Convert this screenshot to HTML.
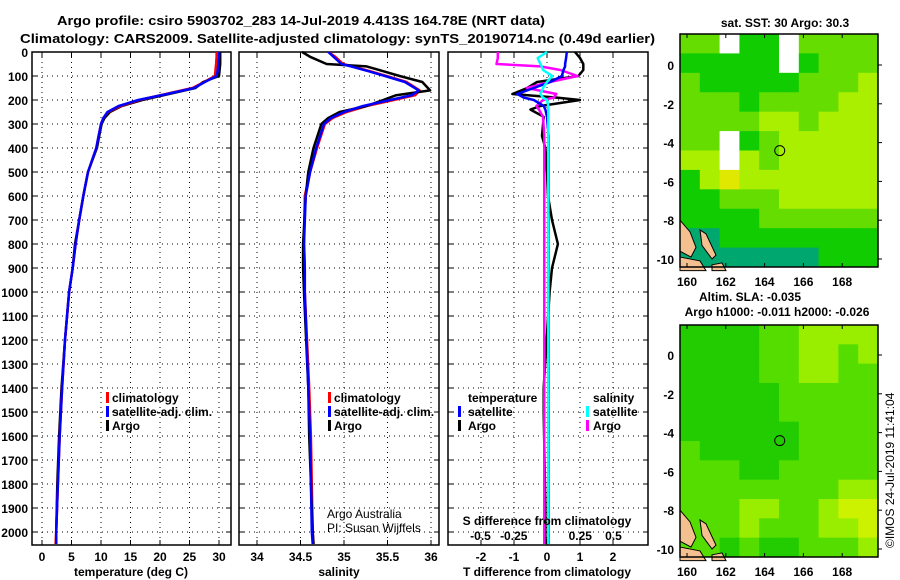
<!DOCTYPE html>
<html><head><meta charset="utf-8"><style>
html,body{margin:0;padding:0;background:#fff;}
svg{display:block;font-family:"Liberation Sans",sans-serif;}
.b{font-weight:bold;font-size:12px;}
</style></head><body>
<svg id="c" width="900" height="580" viewBox="0 0 900 580">
<text class="b" x="57" y="25" textLength="488" lengthAdjust="spacingAndGlyphs" style="font-size:13px">Argo profile: csiro 5903702_283 14-Jul-2019 4.413S 164.78E (NRT data)</text>
<text class="b" x="20" y="43" textLength="635" lengthAdjust="spacingAndGlyphs" style="font-size:13px">Climatology: CARS2009. Satellite-adjusted climatology: synTS_20190714.nc (0.49d earlier)</text>
</svg>
<script>
// ---- data ----
const depthT = [0,20,50,75,100,125,150,175,200,225,250,275,300,350,400,500,600,700,800,900,1000,1200,1400,1600,1800,2000,2050];
const argoT  = [30.2,30.2,30.2,30.1,30.0,27.3,26.0,21.5,17.0,13.5,11.5,10.6,10.1,9.7,9.3,7.8,7.0,6.3,5.6,5.2,4.6,3.9,3.3,2.9,2.6,2.4,2.4];
const climT  = [29.6,29.6,29.5,29.4,29.3,27.5,25.5,21.0,16.5,13.3,11.2,10.4,10.0,9.6,9.2,7.8,7.0,6.3,5.7,5.2,4.6,3.9,3.4,3.0,2.7,2.4,2.3];
const satT   = [30.0,30.0,29.9,29.8,29.6,27.6,25.8,21.2,16.3,13.0,11.1,10.4,10.0,9.6,9.2,7.8,7.0,6.3,5.7,5.2,4.6,3.9,3.4,3.0,2.7,2.4,2.4];
const depthS = [0,20,50,60,80,100,125,160,180,200,225,250,275,300,400,500,600,800,900,1000,1400,1600,2000,2050];
const argoS  = [34.52,34.61,34.80,35.26,35.45,35.64,35.90,35.99,35.60,35.45,35.26,34.95,34.82,34.74,34.65,34.59,34.56,34.53,34.53,34.54,34.59,34.60,34.64,34.65];
const climS  = [34.82,34.90,34.99,35.10,35.30,35.49,35.72,35.87,35.82,35.57,35.26,35.03,34.87,34.78,34.69,34.61,34.55,34.54,34.55,34.55,34.60,34.62,34.64,34.65];
const satS   = [34.82,34.88,34.97,35.08,35.28,35.47,35.70,35.86,35.78,35.53,35.22,35.00,34.85,34.77,34.68,34.61,34.56,34.54,34.55,34.55,34.59,34.61,34.63,34.64];
const depthD = [0,25,50,60,75,100,125,150,175,190,200,225,240,270,350,400,500,600,700,800,900,1000,1400,1500,1900,2050];
const dTargo = [0.85,1.0,1.1,1.1,1.1,0.95,-0.3,-0.6,-1.05,0.3,1.0,-0.2,-0.5,-0.1,-0.15,-0.05,0,0.03,0.15,0.33,0.15,0.08,-0.1,-0.1,-0.05,-0.05];
const dTsat  = [0.6,0.58,0.55,0.55,0.5,0.45,0.1,-0.4,-0.9,-0.7,-0.4,-0.1,-0.05,0,0.05,0.05,0.05,0.05,0.05,0.05,0.05,0.05,0.05,0.05,0.05,0.05];
const dSargo = [-0.37,-0.37,-0.38,-0.05,0.1,0.23,0.02,-0.15,0.07,0.05,-0.03,-0.08,-0.06,-0.03,-0.02,-0.02,-0.02,-0.02,-0.02,-0.02,-0.02,-0.02,-0.02,-0.02,-0.02,-0.02];
const dSsat  = [0,-0.07,-0.05,-0.04,-0.03,0.04,0,-0.03,-0.05,-0.03,0,0.01,0.01,0.01,0.01,0.01,0.01,0.01,0.01,0.01,0.01,0.01,0.01,0.01,0.01,0.01];
const depthTicks = [0,100,200,300,400,500,600,700,800,900,1000,1100,1200,1300,1400,1500,1600,1700,1800,1900,2000];
const tTicks = [0,5,10,15,20,25,30];
const sTicks = [34,34.5,35,35.5,36];
const sTickLabels = ["34","34.5","35","35.5","36"];
const dTTicks = [-2,-1,0,1,2];
const dSTicks = [-0.5,-0.25,0,0.25,0.5];
const dSTickLabels = ["-0.5","-0.25","0","0.25","0.5"];
const lonTicks = [160,162,164,166,168];
const latTicks = [0,-2,-4,-6,-8,-10];
// map grids (colour classes: 0 teal,1 green,2 lime,3 yellow-green,4 yellow, 9 white/missing)
const sstGrid = [
[2,2,9,1,1,9,2,2,2,2],
[1,1,1,1,1,9,1,2,2,2],
[2,1,1,1,1,1,2,2,2,3],
[2,2,2,1,2,2,2,2,3,3],
[2,2,2,2,3,3,2,3,3,3],
[2,2,9,1,2,3,3,3,3,3],
[3,3,9,3,2,3,3,3,3,3],
[1,3,4,3,3,3,3,3,3,3],
[1,1,2,2,2,3,3,3,3,3],
[1,1,1,1,2,2,2,2,2,2],
[0,0,1,1,1,1,1,1,1,1],
[0,0,0,0,0,0,0,1,1,1]];
const slaGrid = [
[1,1,1,1,2,2,3,3,3,3],
[1,1,1,1,2,2,3,3,2,3],
[1,1,1,1,2,2,3,3,2,2],
[1,1,1,1,1,2,2,2,2,2],
[1,1,1,1,1,2,2,2,2,2],
[1,1,1,1,1,1,2,2,2,2],
[2,1,1,1,1,1,2,2,2,2],
[2,2,2,1,1,2,2,2,2,2],
[2,2,2,2,2,2,2,2,3,3],
[2,2,2,3,3,2,2,3,4,4],
[2,2,2,3,2,2,2,3,3,4],
[2,2,1,2,1,1,2,2,2,3]];
const argoLon = [164.78];
const argoLat = [-4.413];

// ---- helpers ----
const svg = document.getElementById('c');
const NS = 'http://www.w3.org/2000/svg';
function mk(tag, attrs, parent){const e=document.createElementNS(NS,tag);for(const k in attrs)e.setAttribute(k,attrs[k]);(parent||svg).appendChild(e);return e;}
const top0=52, bot=545;
const yD = d => top0 + d*0.24;
function panel(x0,x1,xf,ticks,labels,name,gridTicks){
  const g = mk('g',{});
  
  
  depthTicks.forEach(d=>{ if(d>0){ const l=mk('line',{x1:x0,x2:x1,y1:yD(d),y2:yD(d),stroke:'#000','stroke-width':1,'stroke-dasharray':'1,4'},g);  }
    mk('line',{x1:x0,x2:x0+5,y1:yD(d),y2:yD(d),stroke:'#000'},g); mk('line',{x1:x1-5,x2:x1,y1:yD(d),y2:yD(d),stroke:'#000'},g);});
  (gridTicks||ticks).forEach((v,i)=>{const x=xf(v);
    const l=mk('line',{x1:x,x2:x,y1:top0,y2:bot,stroke:'#000','stroke-width':1,'stroke-dasharray':'1,4'},g);
     
    mk('line',{x1:x,x2:x,y1:top0,y2:top0+5,stroke:'#000'},g); mk('line',{x1:x,x2:x,y1:bot-5,y2:bot,stroke:'#000'},g);});
  if(labels) ticks.forEach((v,i)=>{const t=mk('text',{x:xf(v),y:561,'text-anchor':'middle',class:'b'},g); t.textContent=labels[i];
     });
  const r=mk('rect',{x:x0,y:top0,width:x1-x0,height:bot-top0,fill:'none',stroke:'#000','stroke-width':1.5},g);
   
}
function line(depths,vals,xf,color,name){
  const pts = depths.map((d,i)=>xf(vals[i]).toFixed(1)+','+yD(d).toFixed(1)).join(' ');
  const p=mk('polyline',{points:pts,fill:'none',stroke:color,'stroke-width':2.5,'stroke-linejoin':'round'});
  
  
}
function txt(x,y,s,name,extra){const t=mk('text',Object.assign({x:x,y:y,class:'b'},extra||{}));t.textContent=s;
  
  
  return t;}
function legBar(x,y,color){const r=mk('rect',{x:x,y:y-10,width:3,height:11,fill:color});
  
  }

// depth labels
depthTicks.forEach(d=>{const t=txt(28,yD(d)+5,String(d),'y-tick-label',{'text-anchor':'end'});});

// panel 1 temperature
const xT = v => 42 + v*5.9;
panel(32,231,xT,tTicks,tTicks.map(String),'temperature-panel');
line(depthT,argoT,xT,'#000','argo-temperature-line');
line(depthT,climT,xT,'#f00','climatology-temperature-line');
line(depthT,satT,xT,'#00f','satellite-temperature-line');
txt(131,576,'temperature (deg C)','x-axis-title-temperature',{'text-anchor':'middle'});
legBar(106,402,'#f00');txt(112,402,'climatology','legend-entry-climatology');
legBar(106,416,'#00f');txt(112,416,'satellite-adj. clim.','legend-entry-satellite');
legBar(106,430,'#000');txt(112,430,'Argo','legend-entry-argo');

// panel 2 salinity
const xS = v => 257 + (v-34)*87;
panel(239,439,xS,sTicks,sTickLabels,'salinity-panel');
line(depthS,climS,xS,'#f00','climatology-salinity-line');
line(depthS,argoS,xS,'#000','argo-salinity-line');
line(depthS,satS,xS,'#00f','satellite-salinity-line');
txt(339,576,'salinity','x-axis-title-salinity',{'text-anchor':'middle'});
legBar(328,402,'#f00');txt(334,402,'climatology','legend-entry-climatology');
legBar(328,416,'#00f');txt(334,416,'satellite-adj. clim.','legend-entry-satellite');
legBar(328,430,'#000');txt(334,430,'Argo','legend-entry-argo');
txt(327,518,'Argo Australia','credit-text',{style:'font-weight:normal'});
txt(327,532,'PI: Susan Wijffels','pi-text',{style:'font-weight:normal'});

// panel 3 differences
const xDT = v => 547 + v*33;
const xDS = v => 547 + v*133;
panel(448,648,xDT,dTTicks,dTTicks.map(String),'difference-panel');
dSTicks.forEach((v,i)=>txt(xDS(v),540,dSTickLabels[i],'s-diff-tick-label',{'text-anchor':'middle'}));
line(depthD,dTargo,xDT,'#000','argo-temperature-diff-line');
line(depthD,dSargo,xDS,'#f0f','argo-salinity-diff-line');
line(depthD,dTsat,xDT,'#00f','satellite-temperature-diff-line');
line(depthD,dSsat,xDS,'#0ff','satellite-salinity-diff-line');
txt(547,525,'S difference from climatology','s-diff-axis-title',{'text-anchor':'middle'});
txt(547,576,'T difference from climatology','t-diff-axis-title',{'text-anchor':'middle'});
txt(468,402,'temperature','legend-heading-temperature');
legBar(458,416,'#00f');txt(468,416,'satellite','legend-entry-t-satellite');
legBar(458,430,'#000');txt(468,430,'Argo','legend-entry-t-argo');
txt(593,402,'salinity','legend-heading-salinity');
legBar(586,416,'#0ff');txt(593,416,'satellite','legend-entry-s-satellite');
legBar(586,430,'#f0f');txt(593,430,'Argo','legend-entry-s-argo');

// maps
const pal1 = ['#00a870','#10cc00','#66dd00','#aaee00','#e0e800',null,null,null,null,'#ffffff'];
const pal2 = ['#00a870','#22cc00','#55dd00','#99ee00','#ccf200'];
function drawMap(y0,y1,lat0y,grid,pal,name){
  const x0=680,x1=878;
  const g=mk('g',{});
  
  
  const lon = v => 687 + (v-160)*19.4;
  const lat = v => lat0y - v*19.4;
  const rows=grid.length, cols=grid[0].length, cw=(x1-x0)/cols, ch=(y1-y0)/rows;
  grid.forEach((row,r)=>row.forEach((c,k)=>{
    const cell=mk('rect',{x:x0+k*cw,y:y0+r*ch,width:cw+0.5,height:ch+0.5,fill:pal[c]},g);
    
    
  }));
  // land
  const land=[[[680,lat(-8)],[690,lat(-8.6)],[696,lat(-9.4)],[691,lat(-9.9)],[680,lat(-9.6)]],
              [[700,lat(-8.5)],[706,lat(-8.7)],[716,lat(-9.8)],[712,lat(-10)],[702,lat(-9.3)]],
              [[680,lat(-9.9)],[700,lat(-10.1)],[706,lat(-10.6)],[680,lat(-10.6)]],
              [[712,lat(-10.3)],[722,lat(-10.2)],[726,lat(-10.6)],[712,lat(-10.6)]]];
  land.forEach(p=>{const s=mk('polygon',{points:p.map(q=>q.join(',')).join(' '),fill:'#f5c090',stroke:'#000','stroke-width':1},g);
     });
  const fr=mk('rect',{x:x0,y:y0,width:x1-x0,height:y1-y0,fill:'none',stroke:'#000','stroke-width':1.5},g);
   
  lonTicks.forEach(v=>{mk('line',{x1:lon(v),x2:lon(v),y1:y0,y2:y0+4,stroke:'#000'},g);mk('line',{x1:lon(v),x2:lon(v),y1:y1-4,y2:y1,stroke:'#000'},g);
    const t=txt(lon(v),y1+19,String(v),'lon-tick-label',{'text-anchor':'middle'});});
  latTicks.forEach(v=>{mk('line',{x1:x1,x2:x1+4,y1:lat(v),y2:lat(v),stroke:'#000'},g);
    txt(674,lat(v)+5,String(v),'lat-tick-label',{'text-anchor':'end'});});
  argoLon.forEach((v,i)=>{const c=mk('circle',{cx:lon(v),cy:lat(argoLat[i]),r:5,fill:'none',stroke:'#000','stroke-width':1},g);
     });
}
drawMap(34,267,65,sstGrid,pal1,'sst-map');
drawMap(325,557,355,slaGrid,pal2,'sla-map');
txt(785,27,'sat. SST: 30 Argo: 30.3','sst-map-title',{'text-anchor':'middle'});
txt(750,301,'Altim. SLA: -0.035','sla-map-title',{'text-anchor':'middle'});
txt(777,316,'Argo h1000: -0.011 h2000: -0.026','argo-height-label',{'text-anchor':'middle'});
txt(894,548,'©IMOS 24-Jul-2019 11:41:04','timestamp-label',{style:'font-weight:normal',transform:'rotate(-90 894 548)'});
</script>
</body></html>
